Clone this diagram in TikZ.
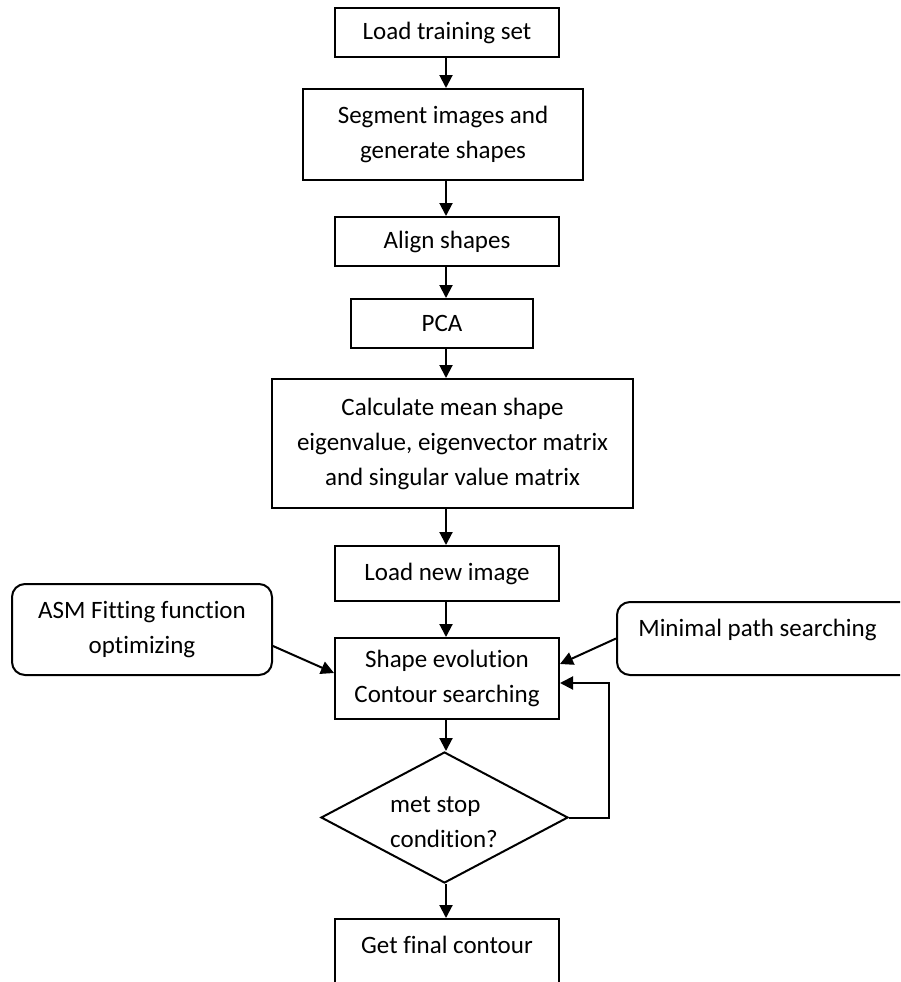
\documentclass[tikz,border=0pt]{standalone}
\usepackage{fontspec}
\setmainfont[Ligatures=NoCommon]{Carlito}
\usetikzlibrary{arrows.meta,shapes.geometric,calc}
\begin{document}
\begin{tikzpicture}[x=1pt,y=-1pt,
  every node/.style={font=\fontsize{25}{35}\selectfont},
  box/.style={draw, line width=2pt, align=center, inner sep=0pt},
  rbox/.style={box, rounded corners=13pt},
  txt/.style={inner sep=0pt, align=center},
  arr/.style={line width=2pt, -{Triangle[length=13pt,width=13pt]}}]
\useasboundingbox (0,0) rectangle (900,982);
\clip (0,0) rectangle (900,982);
\coordinate (axis) at (446,0);
\coordinate (fb) at (609,683);
\node[box, minimum width=224pt, minimum height=49pt] (load) at (447,32.5) {Load training set};
\node[box, minimum width=280pt, minimum height=91pt] (seg) at (443,134.5) {Segment images and\\generate shapes};
\node[box, minimum width=224pt, minimum height=49pt] (align) at (447,241.5) {Align shapes};
\node[box, minimum width=182pt, minimum height=49pt] (pca) at (442,323.5) {PCA};
\node[box, minimum width=361pt, minimum height=129pt] (calc) at (452.5,443.5) {Calculate mean shape\\eigenvalue, eigenvector matrix\\and singular value matrix};
\node[box, minimum width=224pt, minimum height=55pt] (loadnew) at (447,573.5) {Load new image};
\node[box, minimum width=224pt, minimum height=81pt] (shape) at (447,678.5) {Shape evolution\\Contour searching};
\node[rbox, minimum width=260pt, minimum height=91pt] (asm) at (142,629.5) {ASM Fitting function\\optimizing};
\node[rbox, minimum width=300pt, minimum height=73pt] (mps) at (767,638.5) {};
\node[txt] (mpst) at (757.5,630) {Minimal path searching};
\node[draw, diamond, line width=2pt, aspect=1.9, inner sep=0pt, minimum width=247pt, minimum height=131pt] (dec) at (444.5,817.5) {};
\node[inner sep=0pt, align=left] (dect) at (444,822.5) {met stop\\condition?};
\node[box, minimum width=224pt, minimum height=90pt] (final) at (447,964) {};
\node[txt] (finalt) at (447,945) {Get final contour};
\draw[arr] (load.south -| axis) -- (seg.north -| axis);
\draw[arr] (seg.south -| axis) -- (align.north -| axis);
\draw[arr] (align.south -| axis) -- (pca.north -| axis);
\draw[arr] (pca.south -| axis) -- (calc.north -| axis);
\draw[arr] (calc.south -| axis) -- (loadnew.north -| axis);
\draw[arr] (loadnew.south -| axis) -- (shape.north -| axis);
\draw[arr] (shape.south -| axis) -- (dec.north -| axis);
\draw[arr] (dec.south -| axis) -- (final.north -| axis);
\draw[arr] ([yshift=-16.5pt]asm.east) -- ([yshift=5.5pt]shape.west);
\draw[arr] (mps.west) -- ([yshift=14.5pt]shape.east);
\draw[arr] (dec.east) -- (dec.east -| fb) -- (fb) -- (shape.east |- fb);
\end{tikzpicture}
\end{document}
